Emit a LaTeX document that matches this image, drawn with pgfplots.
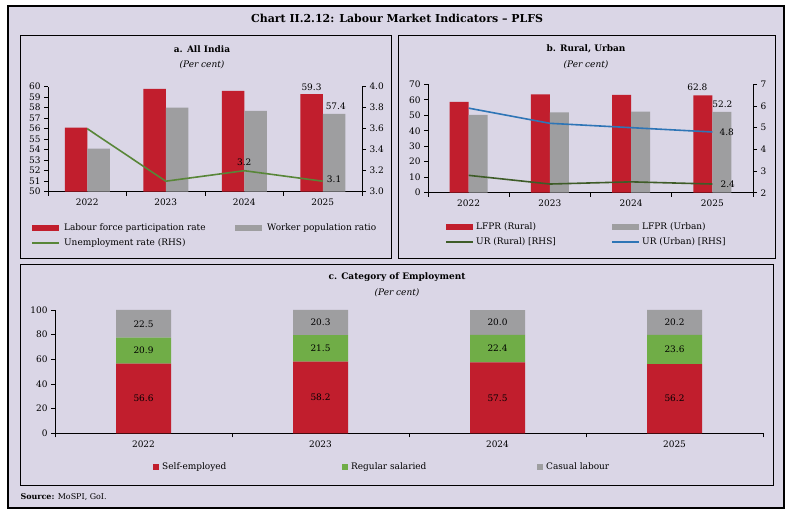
\documentclass[border=0pt]{standalone}
\usepackage{pgfplots}
\pgfplotsset{compat=1.18}
\usepackage{fontspec}
\setmainfont{DejaVu Serif}
\definecolor{bg}{RGB}{218,214,230}
\definecolor{cred}{RGB}{193,30,45}
\definecolor{cgray}{RGB}{158,158,160}
\definecolor{cgreen}{RGB}{88,134,56}
\definecolor{cdgreen}{RGB}{62,92,40}
\definecolor{cblue}{RGB}{46,117,182}
\definecolor{clgreen}{RGB}{112,173,71}
\newcommand{\fs}{\fontsize{9}{10}\selectfont}
\tikzset{lab/.style={font=\fs, inner sep=1bp}}
\pgfplotsset{
  base/.style={scale only axis,
    tick label style={font=\fs},
    /pgf/number format/assume math mode=true,
    tick align=outside, major tick length=4bp, minor tick length=4bp,
    axis line style={line width=0.6bp, black}, tick style={line width=0.6bp, black},
    xmin=-0.5, xmax=3.5},
  catx/.style={axis x line*=bottom, axis y line*=left,
    xtick={0,1,2,3}, xticklabels={2022,2023,2024,2025},
    major x tick style={draw=none}, minor xtick={-0.5,0.5,1.5,2.5,3.5}},
  barleg/.style={legend image code/.code={\fill[##1,draw=none] (0bp,-3bp) rectangle (27bp,3bp);}},
  lineleg/.style={legend image code/.code={\fill[fill=#1, draw=none] (0bp,-0.85bp) rectangle (27bp,0.85bp);}},
  sqleg/.style={legend image code/.code={\fill[##1,draw=none] (0bp,-3bp) rectangle (6bp,3bp);}},
  legbase/.style={legend cell align=left, legend style={draw=none, fill=none, inner sep=0pt,
    font=\fs, row sep=6bp,
    nodes={inner sep=0pt, text height=7bp, text depth=2bp}}},
}
\begin{document}
\begin{tikzpicture}
\fill[white] (0bp,0bp) rectangle (791bp,516bp);
\filldraw[fill=bg, draw=black, line width=1.5bp] (8bp,8bp) rectangle (784bp,510bp);
\draw[line width=0.8bp] (20bp,258bp) rectangle (391bp,481bp);
\draw[line width=0.8bp] (398bp,258bp) rectangle (775bp,481bp);
\draw[line width=0.8bp] (20bp,31bp) rectangle (773bp,252bp);
\node[font=\bfseries\fontsize{11}{12}\selectfont] at (397bp,498bp) {Chart II.2.12: Labour Market Indicators – PLFS};
\node[font=\bfseries\fs] at (202bp,467bp) {a. All India};
\node[font=\itshape\fs] at (202bp,451bp) {(Per cent)};
\node[font=\bfseries\fs] at (586bp,467bp) {b. Rural, Urban};
\node[font=\itshape\fs] at (586bp,451bp) {(Per cent)};
\node[font=\bfseries\fs] at (397bp,239bp) {c. Category of Employment};
\node[font=\itshape\fs] at (397bp,223bp) {(Per cent)};
\node[anchor=west, font=\fontsize{8}{9}\selectfont] at (17bp,19bp) {\textbf{Source:} MoSPI, GoI.};

% ---------- Panel a ----------
\begin{axis}[base, catx, legbase, at={(48bp,324.3bp)}, anchor=south west, width=314bp, height=105bp,
  ymin=50, ymax=60, ytick={50,51,52,53,54,55,56,57,58,59,60},
  ybar=0pt, bar width=22.5bp,
  legend columns=2,
  legend style={at={(-0.051,-0.298)}, anchor=north west,
    /tikz/every odd column/.append style={column sep=5bp}}]
\addplot[fill=cred, draw=none, barleg] coordinates {(0,56.1) (1,59.8) (2,59.6) (3,59.3)};
\addplot[fill=cgray, draw=none, barleg] coordinates {(0,54.1) (1,58.0) (2,57.7) (3,57.4)};
\addlegendimage{lineleg=cgreen}
\legend{\makebox[171bp][l]{Labour force participation rate}, Worker population ratio, Unemployment rate (RHS)}
\end{axis}
\begin{axis}[base, at={(48bp,324.3bp)}, anchor=south west, width=314bp, height=105bp,
  ymin=3, ymax=4, ytick={3,3.2,3.4,3.6,3.8,4}, clip=false,
  axis y line*=right, axis x line=none,
  yticklabel style={/pgf/number format/.cd, fixed, fixed zerofill, precision=1}]
\addplot[cgreen, line width=1.6bp] coordinates {(0,3.6) (1,3.1) (2,3.2) (3,3.1)};
\node[lab, anchor=south] at ([yshift=4bp]axis cs:2,3.2) {3.2};
\node[lab, anchor=west] at ([xshift=3bp,yshift=2bp]axis cs:3,3.1) {3.1};
\node[lab, anchor=south] at ([xshift=-11.25bp,yshift=2bp]axis cs:3,3.93) {59.3};
\node[lab, anchor=south] at ([xshift=13bp,yshift=3bp]axis cs:3,3.74) {57.4};
\end{axis}

% ---------- Panel b ----------
\begin{axis}[base, catx, legbase, at={(428bp,323.3bp)}, anchor=south west, width=325bp, height=108.4bp,
  ymin=0, ymax=70, ytick={0,10,...,70},
  ybar=0pt, bar width=19bp,
  legend columns=2,
  legend style={at={(0.0554,-0.270)}, anchor=north west,
    /tikz/every odd column/.append style={column sep=3bp}}]
\addplot[fill=cred, draw=none, barleg] coordinates {(0,58.6) (1,63.5) (2,63.1) (3,62.8)};
\addplot[fill=cgray, draw=none, barleg] coordinates {(0,50.2) (1,51.9) (2,52.3) (3,52.2)};
\addlegendimage{lineleg=cdgreen}
\addlegendimage{lineleg=cblue}
\legend{\makebox[136bp][l]{LFPR (Rural)}, LFPR (Urban), UR (Rural) [RHS], UR (Urban) [RHS]}
\end{axis}
\begin{axis}[base, at={(428bp,323.3bp)}, anchor=south west, width=325bp, height=108.4bp,
  ymin=2, ymax=7, ytick={2,3,4,5,6,7}, clip=false,
  axis y line*=right, axis x line=none]
\addplot[cdgreen, line width=1.6bp] coordinates {(0,2.8) (1,2.4) (2,2.5) (3,2.4)};
\addplot[cblue, line width=1.6bp] coordinates {(0,5.9) (1,5.2) (2,5.0) (3,4.8)};
\node[lab, anchor=west] at ([xshift=6bp]axis cs:3,4.8) {4.8};
\node[lab, anchor=west] at ([xshift=7bp]axis cs:3,2.4) {2.4};
\node[lab, anchor=south] at ([xshift=-15bp,yshift=4bp]axis cs:3,6.486) {62.8};
\node[lab, anchor=south] at ([xshift=10bp,yshift=3bp]axis cs:3,5.729) {52.2};
\end{axis}

% ---------- Panel c ----------
\begin{axis}[base, catx, legbase, at={(55bp,82.7bp)}, anchor=south west, width=708bp, height=123.3bp,
  ymin=0, ymax=100, ytick={0,20,...,100},
  ybar stacked, bar width=55bp,
  legend columns=3,
  legend style={at={(0.1384,-0.273)}, anchor=west,
    /tikz/every odd column/.append style={column sep=3bp}}]
\addplot[fill=cred, draw=none, sqleg] coordinates {(0,56.6) (1,58.2) (2,57.5) (3,56.2)};
\addplot[fill=clgreen, draw=none, sqleg] coordinates {(0,20.9) (1,21.5) (2,22.4) (3,23.6)};
\addplot[fill=cgray, draw=none, sqleg] coordinates {(0,22.5) (1,20.3) (2,20.0) (3,20.2)};
\legend{\makebox[180bp][l]{Self-employed}, \makebox[186bp][l]{Regular salaried}, Casual labour}
\end{axis}
\begin{axis}[base, at={(55bp,82.7bp)}, anchor=south west, width=708bp, height=123.3bp,
  ymin=0, ymax=100, hide axis, clip=false]
\node[lab] at (axis cs:0,28.3) {56.6};
\node[lab] at (axis cs:0,67.05) {20.9};
\node[lab] at (axis cs:0,88.75) {22.5};
\node[lab] at (axis cs:1,29.1) {58.2};
\node[lab] at (axis cs:1,68.95) {21.5};
\node[lab] at (axis cs:1,89.85) {20.3};
\node[lab] at (axis cs:2,28.75) {57.5};
\node[lab] at (axis cs:2,68.7) {22.4};
\node[lab] at (axis cs:2,89.9) {20.0};
\node[lab] at (axis cs:3,28.1) {56.2};
\node[lab] at (axis cs:3,68.0) {23.6};
\node[lab] at (axis cs:3,89.9) {20.2};
\end{axis}
\end{tikzpicture}
\end{document}
